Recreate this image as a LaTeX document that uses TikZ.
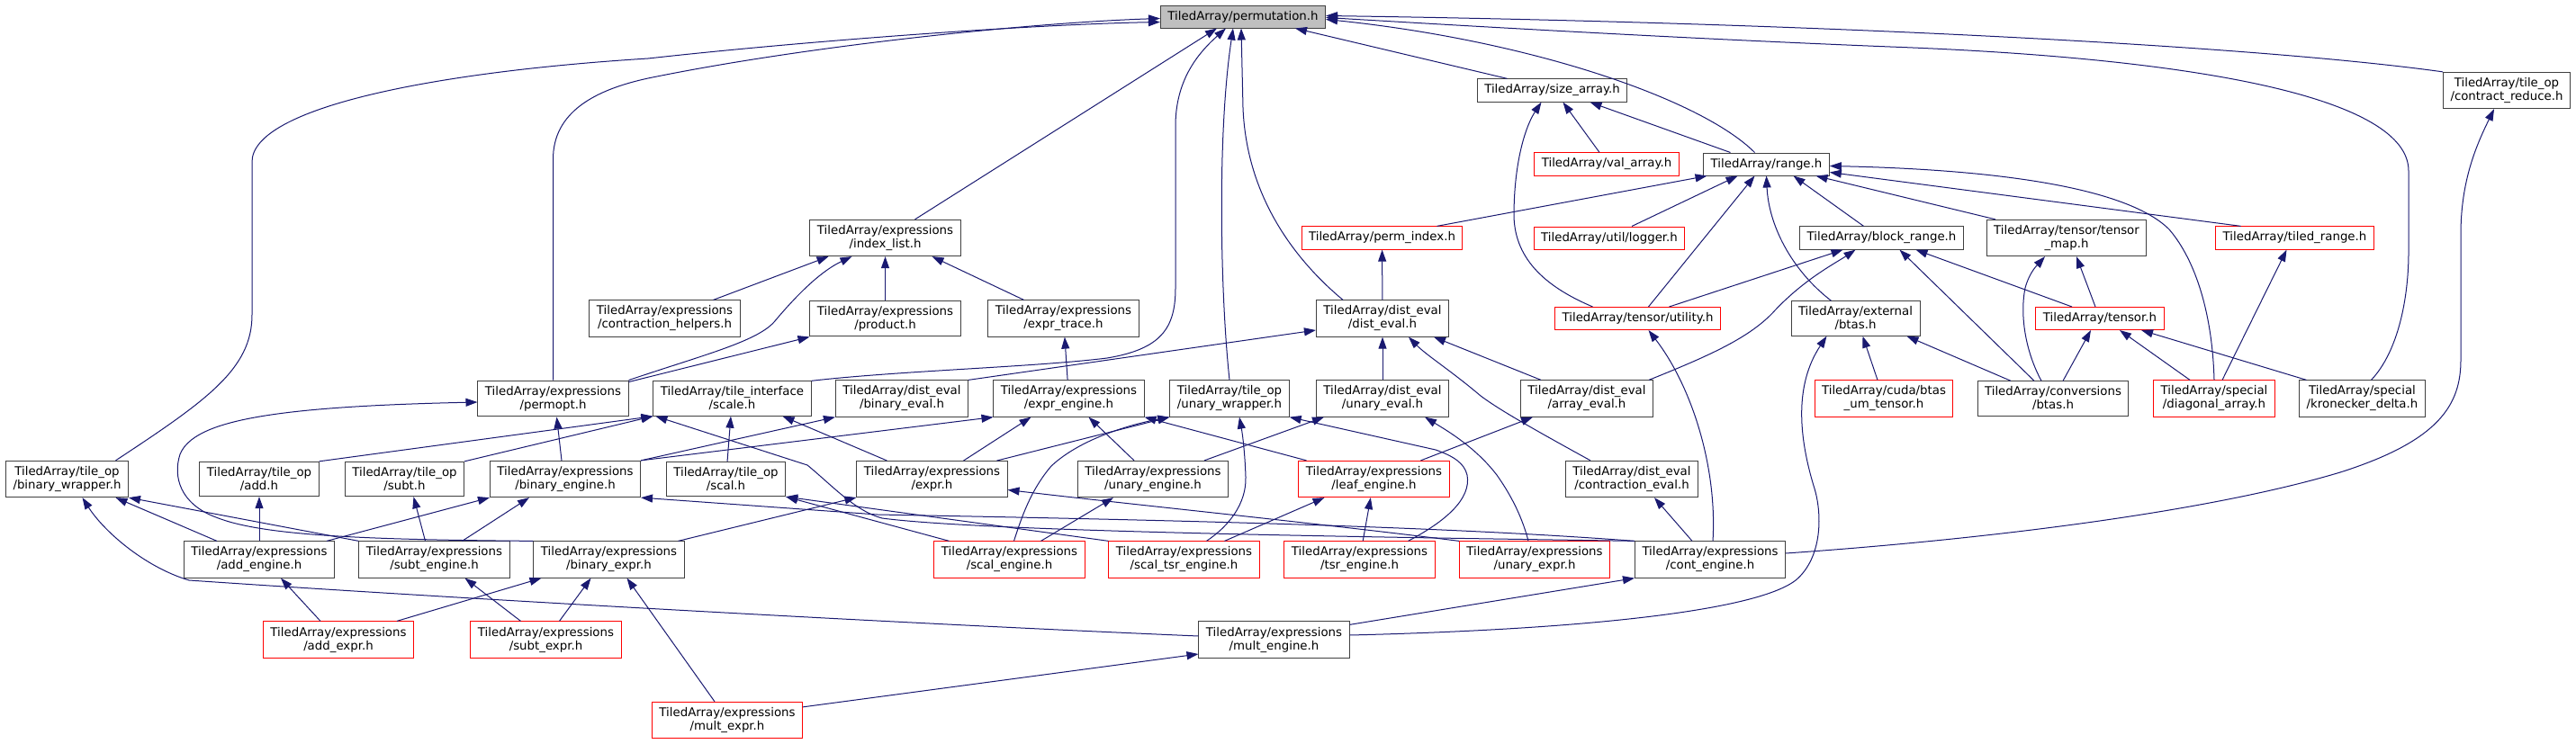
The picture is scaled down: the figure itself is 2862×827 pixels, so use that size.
\documentclass[tikz,border=0pt]{standalone}
\usepackage{fontspec}
\setmainfont{DejaVu Sans}
\usepackage{tikz}
\usetikzlibrary{arrows.meta,positioning}
\definecolor{edgeblue}{RGB}{25,25,112}
\definecolor{boxgray}{RGB}{64,64,64}
\definecolor{rootgray}{RGB}{191,191,191}
\newcommand{\filefont}{\fontsize{13.33}{15}\selectfont}

\begin{document}
\begin{tikzpicture}[
  x=1pt, y=-1pt,
  box/.style={draw=boxgray, fill=white, line width=1pt, align=center,
    inner xsep=8pt, inner ysep=6pt, minimum height=25pt, font=\filefont},
  redbox/.style={box, draw=red},
  rootbox/.style={box, fill=rootgray},
  arr/.style={-{Triangle[length=13pt,width=9pt]}, draw=edgeblue, line width=1pt}
]
\useasboundingbox (0,0) rectangle (2862,827);

\node[rootbox] (perm) at (1381,18.5) {TiledArray/permutation.h};
\node[box] (sizearr) at (1724.5,100.5) {TiledArray/size\_array.h};
\node[box] (contred) at (2785,100.5) {TiledArray/tile\_op\\/contract\_reduce.h};
\node[redbox] (valarr) at (1785,182.5) {TiledArray/val\_array.h};
\node[box] (range) at (1962.5,182.5) {TiledArray/range.h};
\node[box] (idxlist) at (983.5,264.5) {TiledArray/expressions\\/index\_list.h};
\node[redbox] (permidx) at (1535.5,264.5) {TiledArray/perm\_index.h};
\node[redbox] (logger) at (1788,264.5) {TiledArray/util/logger.h};
\node[box] (blkrange) at (2090.5,264.5) {TiledArray/block\_range.h};
\node[box] (tmap) at (2296,264.5) {TiledArray/tensor/tensor\\\_map.h};
\node[redbox] (tiledrange) at (2549.5,264.5) {TiledArray/tiled\_range.h};
\node[box] (conthelp) at (738.5,354) {TiledArray/expressions\\/contraction\_helpers.h};
\node[box] (product) at (983.5,354) {TiledArray/expressions\\/product.h};
\node[box] (exprtrace) at (1181.5,354) {TiledArray/expressions\\/expr\_trace.h};
\node[box] (disteval) at (1536,354) {TiledArray/dist\_eval\\/dist\_eval.h};
\node[redbox] (tutil) at (1819.5,354) {TiledArray/tensor/utility.h};
\node[box] (extbtas) at (2061.5,354) {TiledArray/external\\/btas.h};
\node[redbox] (tensor) at (2333,354) {TiledArray/tensor.h};
\node[box] (permopt) at (614.5,443) {TiledArray/expressions\\/permopt.h};
\node[box] (scale) at (813.5,443) {TiledArray/tile\_interface\\/scale.h};
\node[box] (bineval) at (1002,443) {TiledArray/dist\_eval\\/binary\_eval.h};
\node[box] (exprengine) at (1187.5,443) {TiledArray/expressions\\/expr\_engine.h};
\node[box] (unwrap) at (1366,443) {TiledArray/tile\_op\\/unary\_wrapper.h};
\node[box] (uneval) at (1536,443) {TiledArray/dist\_eval\\/unary\_eval.h};
\node[box] (arreval) at (1763,443) {TiledArray/dist\_eval\\/array\_eval.h};
\node[redbox] (cudabtas) at (2093,443) {TiledArray/cuda/btas\\\_um\_tensor.h};
\node[box] (convbtas) at (2281,443) {TiledArray/conversions\\/btas.h};
\node[redbox] (diagarr) at (2460,443) {TiledArray/special\\/diagonal\_array.h};
\node[box] (kronecker) at (2624.5,443) {TiledArray/special\\/kronecker\_delta.h};
\node[box] (binwrap) at (74.5,532.5) {TiledArray/tile\_op\\/binary\_wrapper.h};
\node[box] (add) at (288,532.5) {TiledArray/tile\_op\\/add.h};
\node[box] (subt) at (449.5,532.5) {TiledArray/tile\_op\\/subt.h};
\node[box] (binengine) at (628,532.5) {TiledArray/expressions\\/binary\_engine.h};
\node[box] (scal) at (806.5,532.5) {TiledArray/tile\_op\\/scal.h};
\node[box] (expr) at (1035.5,532.5) {TiledArray/expressions\\/expr.h};
\node[box] (unengine) at (1281,532.5) {TiledArray/expressions\\/unary\_engine.h};
\node[redbox] (leafengine) at (1526.5,532.5) {TiledArray/expressions\\/leaf\_engine.h};
\node[box] (contreval) at (1813,532.5) {TiledArray/dist\_eval\\/contraction\_eval.h};
\node[box] (addengine) at (288,622) {TiledArray/expressions\\/add\_engine.h};
\node[box] (subtengine) at (482.5,622) {TiledArray/expressions\\/subt\_engine.h};
\node[box] (binexpr) at (676.5,622) {TiledArray/expressions\\/binary\_expr.h};
\node[redbox] (scalengine) at (1121.5,622) {TiledArray/expressions\\/scal\_engine.h};
\node[redbox] (scaltsr) at (1315.5,622) {TiledArray/expressions\\/scal\_tsr\_engine.h};
\node[redbox] (tsrengine) at (1510.5,622) {TiledArray/expressions\\/tsr\_engine.h};
\node[redbox] (unexpr) at (1705,622) {TiledArray/expressions\\/unary\_expr.h};
\node[box] (contengine) at (1900,622) {TiledArray/expressions\\/cont\_engine.h};
\node[redbox] (addexpr) at (376,711) {TiledArray/expressions\\/add\_expr.h};
\node[redbox] (subtexpr) at (606.5,711) {TiledArray/expressions\\/subt\_expr.h};
\node[box] (multengine) at (1415.5,711) {TiledArray/expressions\\/mult\_engine.h};
\node[redbox] (multexpr) at (808,800.5) {TiledArray/expressions\\/mult\_expr.h};

\draw[arr] ([xshift=54pt]binwrap.north) .. controls (230,445) and (280,410) .. (280,350) -- (280,180) .. controls (280,120) and (480,80) .. (720,65) .. controls (900,45) and (1150,27) .. ([yshift=-6pt]perm.west);
\draw[arr] (permopt.north) -- (614.5,177) .. controls (614.5,125) and (660,100) .. (720,87) .. controls (900,50) and (1150,25) .. ([yshift=-2pt]perm.west);
\draw[arr] ([xshift=33pt]idxlist.north) -- ([xshift=-29pt]perm.south);
\draw[arr] ([xshift=-50pt]sizearr.north) -- ([xshift=58pt]perm.south);
\draw[arr] ([xshift=-13pt]range.north) .. controls (1890,110) and (1700,45) .. ([yshift=-3pt]perm.east);
\draw[arr] (contred.north west) .. controls (2500,50) and (2000,25) .. ([yshift=1pt]perm.east);
\draw[arr] ([xshift=10pt]kronecker.north) .. controls (2665,390) and (2676,330) .. (2676,280) -- (2676,190) .. controls (2676,110) and (2450,65) .. (2100,52) .. controls (1850,42) and (1600,27) .. ([yshift=-1pt]perm.east);
\draw[arr] (scale.north east) .. controls (1000,412) and (1150,408) .. (1230,398) .. controls (1290,388) and (1306,365) .. (1306,320) -- (1306,140) .. controls (1306,90) and (1330,60) .. ([xshift=-19pt]perm.south);
\draw[arr] (unwrap.north) .. controls (1356,330) and (1352,150) .. ([xshift=-11pt]perm.south);
\draw[arr] ([xshift=-44pt]disteval.north) .. controls (1440,290) and (1385,220) .. (1381,120) -- ([xshift=-2pt]perm.south);
\draw[arr] ([xshift=-8pt]valarr.north) -- ([xshift=12pt]sizearr.south);
\draw[arr] ([xshift=-40pt]range.north) -- ([xshift=42pt]sizearr.south);
\draw[arr] ([xshift=-50pt]tutil.north) .. controls (1720,320) and (1683,290) .. (1682,240) .. controls (1682,180) and (1695,140) .. ([xshift=-12pt]sizearr.south);
\draw[arr] ([xshift=61pt]permidx.north) -- ([xshift=-66pt]range.south);
\draw[arr] ([xshift=25pt]logger.north) -- ([xshift=-32pt]range.south);
\draw[arr] ([xshift=12pt]tutil.north) -- ([xshift=-13pt]range.south);
\draw[arr] ([xshift=-27pt]extbtas.north) .. controls (1990,300) and (1965,250) .. (range.south);
\draw[arr] ([xshift=-20pt]blkrange.north) -- ([xshift=30pt]range.south);
\draw[arr] ([xshift=-79pt]tmap.north) -- ([xshift=55pt]range.south);
\draw[arr] ([xshift=-60pt]tiledrange.north) -- ([yshift=-9pt]range.east);
\draw[arr] (diagarr.north) .. controls (2458,350) and (2440,290) .. (2410,255) .. controls (2360,205) and (2200,188) .. ([yshift=-2pt]range.east);
\draw[arr] (disteval) -- (permidx);
\draw[arr] ([xshift=35pt]tutil.north) -- ([xshift=-43pt]blkrange.south);
\draw[arr] ([xshift=69pt]arreval.north) .. controls (1900,395) and (1945,375) .. (1972,345) .. controls (2005,310) and (2040,292) .. ([xshift=-29pt]blkrange.south);
\draw[arr] ([xshift=-21pt]convbtas.north) -- ([xshift=20pt]blkrange.south);
\draw[arr] ([xshift=-31pt]tensor.north) -- ([xshift=38pt]blkrange.south);
\draw[arr] ([xshift=-13pt]convbtas.north) .. controls (2250,390) and (2244,350) .. (2250,320) .. controls (2255,302) and (2264,294) .. ([xshift=-24pt]tmap.south);
\draw[arr] ([xshift=-5pt]tensor.north) -- ([xshift=11pt]tmap.south);
\draw[arr] ([xshift=9pt]diagarr.north) -- ([xshift=-9pt]tiledrange.south);
\draw[arr] ([xshift=11pt]convbtas.north) -- ([xshift=-10pt]tensor.south);
\draw[arr] ([xshift=-27pt]diagarr.north) -- ([xshift=22pt]tensor.south);
\draw[arr] ([xshift=-62pt]kronecker.north) -- ([xshift=46pt]tensor.south);
\draw[arr] ([xshift=-7pt]cudabtas.north) -- ([xshift=8pt]extbtas.south);
\draw[arr] ([xshift=-47pt]convbtas.north) -- ([xshift=57pt]extbtas.south);
\draw[arr] ([yshift=5pt]multengine.east) .. controls (1750,700) and (1950,680) .. (1995,645) .. controls (2025,620) and (2025,570) .. (2015,540) .. controls (2000,490) and (1992,430) .. ([xshift=-32pt]extbtas.south);
\draw[arr] ([xshift=3pt]contengine.north) .. controls (1908,520) and (1880,430) .. ([xshift=12pt]tutil.south);
\draw[arr] (bineval.north east) -- ([yshift=-13pt]disteval.west);
\draw[arr] (uneval) -- (disteval);
\draw[arr] ([xshift=-51pt]arreval.north) -- ([xshift=57pt]disteval.south);
\draw[arr] ([xshift=-46pt]contreval.north) .. controls (1700,475) and (1665,455) .. (1645,440) .. controls (1612,412) and (1585,395) .. ([xshift=29pt]disteval.south);
\draw[arr] ([xshift=54pt]conthelp.north) -- ([xshift=-63pt]idxlist.south);
\draw[arr] (permopt.north east) .. controls (780,395) and (840,380) .. (860,358) .. controls (890,322) and (915,300) .. ([xshift=-37pt]idxlist.south);
\draw[arr] (product) -- (idxlist);
\draw[arr] ([xshift=-44pt]exprtrace.north) -- ([xshift=52pt]idxlist.south);
\draw[arr] ([yshift=-2pt]permopt.north east) -- (product.south west);
\draw[arr] (exprengine) -- (exprtrace);
\draw[arr] ([xshift=-4pt]binengine.north) -- ([xshift=4pt]permopt.south);
\draw[arr] (binexpr.north west) .. controls (400,600) and (290,595) .. (240,575) .. controls (200,560) and (192,530) .. (200,505) .. controls (215,468) and (300,452) .. ([yshift=-4pt]permopt.west);
\draw[arr] (add.north east) -- (scale.south west);
\draw[arr] (subt.north east) -- (scale.south west);
\draw[arr] (scal) -- (scale);
\draw[arr] ([xshift=-50pt]expr.north) -- ([xshift=56pt]scale.south);
\draw[arr] (contengine.north west) .. controls (1600,598) and (1100,592) .. (980,576) .. controls (950,568) and (925,540) .. (897,517) -- ([xshift=3pt]scale.south west);
\draw[arr] (binengine.north east) -- (bineval.south west);
\draw[arr] (binengine.north east) -- (exprengine.south west);
\draw[arr] (addengine) -- (add);
\draw[arr] ([xshift=-10pt]subtengine.north) -- ([xshift=10pt]subt.south);
\draw[arr] ([xshift=75pt]addengine.north) -- (binengine.south west);
\draw[arr] ([xshift=31pt]subtengine.north) -- ([xshift=-40pt]binengine.south);
\draw[arr] (contengine.north west) .. controls (1600,585) and (1300,578) .. (975,572) -- (binengine.south east);
\draw[arr] ([xshift=-47pt]addengine.north) -- ([xshift=54pt]binwrap.south);
\draw[arr] (subtengine.north west) -- (binwrap.south east);
\draw[arr] ([yshift=4pt]multengine.west) .. controls (1000,693) and (500,665) .. (210,645) .. controls (160,630) and (115,590) .. ([xshift=17pt]binwrap.south);
\draw[arr] ([xshift=65pt]addexpr.north) -- ([xshift=-75pt]binexpr.south);
\draw[arr] ([xshift=15pt]subtexpr.north) -- ([xshift=-20pt]binexpr.south);
\draw[arr] ([xshift=-14pt]multexpr.north) -- ([xshift=20pt]binexpr.south);
\draw[arr] ([xshift=-20pt]addexpr.north) -- ([xshift=24pt]addengine.south);
\draw[arr] ([xshift=-28pt]subtexpr.north) -- ([xshift=34pt]subtengine.south);
\draw[arr] ([yshift=-6pt]multexpr.north east) -- ([yshift=-16pt]multengine.west);
\draw[arr] ([yshift=-4pt]multengine.north east) -- (contengine.south west);
\draw[arr] ([yshift=7pt]contengine.east) .. controls (2200,600) and (2450,570) .. (2600,525) .. controls (2710,490) and (2734,450) .. (2734,400) -- (2734,260) .. controls (2734,200) and (2752,160) .. ([xshift=-14pt]contred.south);
\draw[arr] ([xshift=-20pt]contengine.north) -- ([xshift=25pt]contreval.south);
\draw[arr] ([xshift=-7pt]binexpr.north east) -- (expr.south west);
\draw[arr] ([xshift=-67pt]scalengine.north) -- (scal.south east);
\draw[arr] (scaltsr.north west) -- (scal.south east);
\draw[arr] ([xshift=35pt]expr.north) -- ([xshift=-42pt]exprengine.south);
\draw[arr] ([xshift=-21pt]unengine.north) -- ([xshift=22pt]exprengine.south);
\draw[arr] ([xshift=57pt]unengine.north) -- ([xshift=-65pt]uneval.south);
\draw[arr] ([xshift=52pt]leafengine.north) -- ([xshift=-60pt]arreval.south);
\draw[arr] ([xshift=-75pt]leafengine.north) -- (exprengine.south east);
\draw[arr] ([xshift=54pt]tsrengine.north) .. controls (1605,580) and (1635,555) .. (1630,528) .. controls (1627,515) and (1615,507) .. (1595,500) -- (unwrap.south east);
\draw[arr] ([xshift=25pt]scaltsr.north) .. controls (1365,585) and (1385,560) .. (1384,530) .. controls (1383,500) and (1380,480) .. ([xshift=11pt]unwrap.south);
\draw[arr] ([xshift=45pt]scaltsr.north) -- ([xshift=-55pt]leafengine.south);
\draw[arr] (tsrengine) -- (leafengine);
\draw[arr] ([xshift=-7pt]unexpr.north) .. controls (1690,570) and (1675,545) .. (1663,528) .. controls (1640,498) and (1610,480) .. ([xshift=47pt]uneval.south);
\draw[arr] (unexpr.north west) .. controls (1450,580) and (1250,560) .. ([yshift=-12pt]expr.east);
\draw[arr] ([xshift=-12pt]expr.north east) -- (unwrap.south west);
\draw[arr] ([xshift=5pt]scalengine.north) .. controls (1135,575) and (1145,545) .. (1168,518) .. controls (1200,488) and (1255,472) .. (unwrap.south west);
\draw[arr] ([xshift=35pt]scalengine.north) -- ([xshift=-44pt]unengine.south);
\end{tikzpicture}
\end{document}
